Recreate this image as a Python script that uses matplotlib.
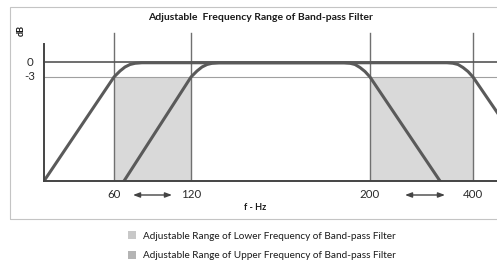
# adjustable frequency range of a band-pass filter (schematic)
import matplotlib
matplotlib.use("Agg")
import matplotlib.pyplot as plt
from matplotlib.patches import Patch, Rectangle

plt.rcParams['font.family'] = ['Lato', 'DejaVu Sans']

# schematic x positions (arbitrary units) and levels in dB
cut_x = [70, 147, 326, 429]
cut_labels = ["60", "120", "200", "400"]
levels = [0, -3]
level_labels = ["0", "-3"]
floor_db = -23.8

# response of the filter with the lowest setting (60 Hz - 200 Hz)
low_x = [0, 70, 76, 81, 86, 91, 98, 300, 306, 311, 316, 321, 326, 396]
low_y = [-23.8, -3, -1.8, -1.0, -0.5, -0.26, -0.15, -0.15, -0.25, -0.5, -1.1, -1.9, -3, -23.8]
# response of the filter with the highest setting (120 Hz - 400 Hz)
high_x = [80, 147, 153, 158, 163, 168, 175, 403, 409, 414, 419, 424, 429, 500]
high_y = [-23.8, -3, -1.8, -1.0, -0.5, -0.26, -0.15, -0.15, -0.25, -0.5, -1.1, -1.9, -3, -23.8]

# shaded ranges: lower edge 60..120, upper edge 200..400
ranges = [(70, 147), (326, 429)]
legend_labels = ["Adjustable Range of Lower Frequency of Band-pass Filter",
                 "Adjustable Range of Upper Frequency of Band-pass Filter"]
legend_colors = ["#c8c8c8", "#b4b4b4"]

fig = plt.figure(figsize=(4.97, 2.71), dpi=100)
fig.patch.set_facecolor("white")

# light outer frame
fig.add_artist(Rectangle((10/497, 52/271), 1.0, 212/271, transform=fig.transFigure,
                         fill=False, edgecolor="#c4c4c4", lw=0.8))

ax = fig.add_axes([44/497, 90/271, 453/497, 149/271])
ax.set_xlim(0, 453)
ax.set_ylim(floor_db, 6.0)
ax.axis("off")

for a, b in ranges:
    ax.fill_between([a, b], floor_db, -3, color="#d9d9d9", lw=0)

for x in cut_x:
    ax.plot([x, x], [floor_db, 5.8], color="#707070", lw=1.0)

ax.plot([0, 453], [0, 0], color="#555555", lw=1.2, clip_on=False)
ax.plot([0, 453], [-3, -3], color="#a0a0a0", lw=0.8, clip_on=False)

ax.plot(low_x, low_y, color="#5a5a5a", lw=2.2, solid_joinstyle="round")
ax.plot(high_x, high_y, color="#5a5a5a", lw=2.2, solid_joinstyle="round")

# axes lines
ax.plot([0, 0], [floor_db, 3.6], color="#444444", lw=1.4, clip_on=False)
ax.plot([0, 453], [floor_db, floor_db], color="#444444", lw=1.4, clip_on=False)

for v, s in zip(levels, level_labels):
    ax.text(-14, v, s, ha="center", va="center", fontsize=8.3, color="#2a2a2a")
for x, s in zip(cut_x, cut_labels):
    ax.text(x, -26.6, s, ha="center", va="center", fontsize=8.3, color="#2a2a2a")

for a, b in [(89, 128), (361, 401)]:
    ax.annotate("", xy=(a, -26.6), xytext=(b, -26.6), annotation_clip=False,
                arrowprops=dict(arrowstyle="<|-|>,head_length=0.4,head_width=0.15",
                                color="#444444", lw=1.0, shrinkA=0, shrinkB=0))

ax.text(211, -29.2, "f - Hz", ha="center", va="center", fontsize=6.5,
        fontweight="bold", color="#1a1a1a")
ax.text(-23, 6.4, "dB", ha="center", va="center", rotation=90, fontsize=6.5,
        fontweight="bold", color="#1a1a1a")
fig.text(260/497, 1 - 18/271, "Adjustable  Frequency Range of Band-pass Filter",
         ha="center", va="center", fontsize=7.5, fontweight="bold", color="#1a1a1a")

handles = [Patch(facecolor=c, edgecolor="none") for c in legend_colors]
fig.legend(handles, legend_labels, loc="upper left", bbox_to_anchor=(119/497, 1 - 222/271),
           frameon=False, fontsize=7.2, handlelength=0.75, handleheight=0.9,
           handletextpad=0.75, labelspacing=1.0, labelcolor="#1a1a1a")

fig.savefig("out.png", dpi=100)
